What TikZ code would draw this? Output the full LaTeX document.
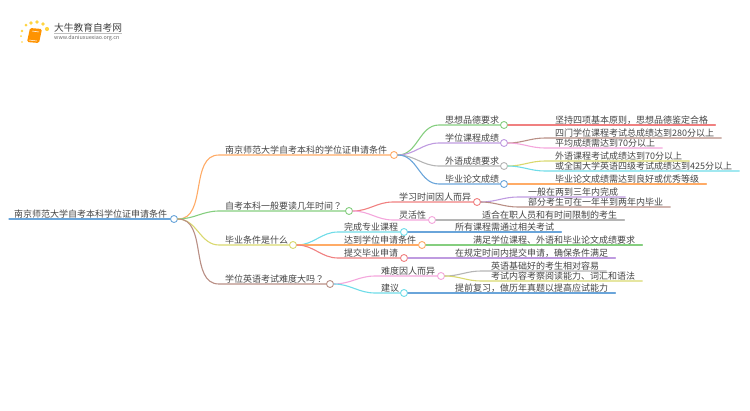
\documentclass[tikz,border=0pt]{standalone}
\usepackage{fontspec}
\setmainfont{Noto Sans CJK SC}
\newfontfamily\tcfont{Noto Sans CJK TC}
\usepackage{xcolor}
\definecolor{cblue}{HTML}{6AA5DA}
\definecolor{corange}{HTML}{FFAB66}
\definecolor{cgreen}{HTML}{85CE7F}
\definecolor{cyellow}{HTML}{D9D86E}
\definecolor{cbrown}{HTML}{B98F85}
\definecolor{cred}{HTML}{F08080}
\definecolor{cpurple}{HTML}{BF9BE0}
\definecolor{cgray}{HTML}{B5B5B5}
\definecolor{cpink}{HTML}{F4A6DC}
\definecolor{ccyan}{HTML}{6FDCE8}
\definecolor{inktext}{HTML}{444444}
\tikzset{
  topic/.style={anchor=south west, inner xsep=0pt, inner ysep=0pt, text height=7.5pt, text depth=1.5pt,
    font=\fontsize{9}{9}\selectfont, text=inktext},
  dot/.style={draw=#1, fill=white, circle, line width=.9pt, minimum width=7pt, inner sep=0pt},
  branch/.style={draw=#1, line width=1.1pt, line cap=round},
  curve/.style={out=0, in=180}
}
\begin{document}
\begin{tikzpicture}[x=1pt, y=-1pt]
  \useasboundingbox (0,0) rectangle (750,410);

  \foreach \dotx/\doty/\dotr in {26/25/1.5, 31/23/1.9, 37/22/1.9, 43/24/1.9, 47/29/2.1, 22/31/1.3, 21/36/1, 22/42/.8}
    \fill[orange!45!yellow, opacity=.75] (\dotx,\doty) circle (\dotr);
  \fill[rounded corners=1.5pt, orange!85!yellow] (30,28) -- (42,29) -- (39,43) -- (27,42) -- cycle;
  \draw[white, line width=.5pt] (32,31) -- (39,32);
  \draw[white, line width=.5pt] (29,40) -- (37,41);
  \node[anchor=west, inner sep=0pt, font=\fontsize{9.7}{10}\selectfont, text=black!75] (logotitle) at (54,27.5) {大牛教育自考网};
  \node[anchor=west, inner sep=0pt, font=\fontsize{5.4}{6}\selectfont, text=black!60] (logourl) at (54,38.5) {www.daniuxuexiao.org.cn};
  \draw[black!25, line width=.4pt] (logotitle.south west) ++(0,1) -- ++(68,0);

  \node[dot=cblue] (root) at (174,219) {};
  \node[dot=corange] (cond) at (394,155) {};
  \node[dot=cgreen] (years) at (349,211) {};
  \node[dot=cyellow] (grad) at (293,245) {};
  \node[dot=cbrown] (eng) at (330,284) {};
  \node[dot=cgreen] (moral) at (504,125) {};
  \node[dot=cpurple] (course) at (504,143) {};
  \node[dot=cgray] (lang) at (504,166) {};
  \node[dot=cblue] (thesis) at (504,184) {};
  \node[dot=cred] (study) at (477,202) {};
  \node[dot=cpink] (flex) at (432,220) {};
  \node[dot=ccyan] (finish) at (404,232) {};
  \node[dot=corange] (reach) at (422,245) {};
  \node[dot=cred] (submit) at (404,258) {};
  \node[dot=cpink] (hard) at (441,276) {};
  \node[dot=ccyan] (tips) at (404,293) {};

  \node[topic] (troot) at (14,219) {南京师范大学自考本科学位证申请条件};
  \node[topic] (tcond) at (225,155) {南京师范大学自考本科的学位证申请条件};
  \node[topic] (tyears) at (225,211) {自考本科一般要读几年时间{\tcfont ？}};
  \node[topic] (tgrad) at (225,245) {毕业条件是什么};
  \node[topic] (teng) at (225,284) {学位英语考试难度大吗{\tcfont ？}};
  \node[topic] (tmoral) at (445,125) {思想品德要求};
  \node[topic] (tcourse) at (445,143) {学位课程成绩};
  \node[topic] (tlang) at (445,166) {外语成绩要求};
  \node[topic] (tthesis) at (445,184) {毕业论文成绩};
  \node[topic] (tstudy) at (399,202) {学习时间因人而异};
  \node[topic] (tflex) at (399,220) {灵活性};
  \node[topic] (tfinish) at (344,232) {完成专业课程};
  \node[topic] (treach) at (344,245) {达到学位申请条件};
  \node[topic] (tsubmit) at (344,258) {提交毕业申请};
  \node[topic] (thard) at (381,276) {难度因人而异};
  \node[topic] (ttips) at (381,293) {建议};

  \node[topic] (lmoral) at (555,125) {坚持四项基本原则，思想品德鉴定合格};
  \node[topic] (lcoursea) at (555,138) {四门学位课程考试总成绩达到280分以上};
  \node[topic] (lcourseb) at (555,148) {平均成绩需达到70分以上};
  \node[topic] (llanga) at (555,161) {外语课程考试成绩达到70分以上};
  \node[topic] (llangb) at (555,171) {或全国大学英语四级考试成绩达到425分以上};
  \node[topic] (lthesis) at (555,184) {毕业论文成绩需达到良好或优秀等级};
  \node[topic] (lstudya) at (528,197) {一般在两到三年内完成};
  \node[topic] (lstudyb) at (528,207) {部分考生可在一年半到两年内毕业};
  \node[topic] (lflex) at (482,220) {适合在职人员和有时间限制的考生};
  \node[topic] (lfinish) at (455,232) {所有课程需通过相关考试};
  \node[topic] (lreach) at (473,245) {满足学位课程、外语和毕业论文成绩要求};
  \node[topic] (lsubmit) at (455,258) {在规定时间内提交申请，确保条件满足};
  \node[topic] (lharda) at (491,271) {英语基础好的考生相对容易};
  \node[topic] (lhardb) at (491,281) {考试内容考察阅读能力、词汇和语法};
  \node[topic] (ltips) at (455,293) {提前复习，做历年真题以提高应试能力};

  \draw[branch=cblue] ([xshift=-5pt]troot.south west) -- (root);
  \draw[branch=corange] (root.east) to[curve] ([xshift=-6pt]tcond.south west) -- (cond);
  \draw[branch=cgreen] (root.east) to[curve] ([xshift=-6pt]tyears.south west) -- (years);
  \draw[branch=cyellow] (root.east) to[curve] ([xshift=-6pt]tgrad.south west) -- (grad);
  \draw[branch=cbrown] (root.east) to[curve] ([xshift=-6pt]teng.south west) -- (eng);

  \draw[branch=cgreen] (cond.east) to[curve] ([xshift=-6pt]tmoral.south west) -- (moral);
  \draw[branch=cpurple] (cond.east) to[curve] ([xshift=-6pt]tcourse.south west) -- (course);
  \draw[branch=cgray] (cond.east) to[curve] ([xshift=-6pt]tlang.south west) -- (lang);
  \draw[branch=cblue] (cond.east) to[curve] ([xshift=-6pt]tthesis.south west) -- (thesis);
  \draw[branch=cred] (years.east) to[curve] ([xshift=-6pt]tstudy.south west) -- (study);
  \draw[branch=cpink] (years.east) to[curve] ([xshift=-6pt]tflex.south west) -- (flex);
  \draw[branch=ccyan] (grad.east) to[curve] ([xshift=-6pt]tfinish.south west) -- (finish);
  \draw[branch=corange] (grad.east) to[curve] ([xshift=-6pt]treach.south west) -- (reach);
  \draw[branch=cred] (grad.east) to[curve] ([xshift=-6pt]tsubmit.south west) -- (submit);
  \draw[branch=cpink] (eng.east) to[curve] ([xshift=-6pt]thard.south west) -- (hard);
  \draw[branch=ccyan] (eng.east) to[curve] ([xshift=-6pt]ttips.south west) -- (tips);

  \draw[branch=cred] (moral) -- ([xshift=7pt]lmoral.south east);
  \draw[branch=cbrown] (course.east) to[curve] ([xshift=-10pt]lcoursea.south west) -- ([xshift=7pt]lcoursea.south east);
  \draw[branch=cpink] (course.east) to[curve] ([xshift=-10pt]lcourseb.south west) -- ([xshift=7pt]lcourseb.south east);
  \draw[branch=cyellow] (lang.east) to[curve] ([xshift=-10pt]llanga.south west) -- ([xshift=7pt]llanga.south east);
  \draw[branch=ccyan] (lang.east) to[curve] ([xshift=-10pt]llangb.south west) -- ([xshift=7pt]llangb.south east);
  \draw[branch=corange] (thesis) -- ([xshift=7pt]lthesis.south east);
  \draw[branch=cpurple] (study.east) to[curve] ([xshift=-10pt]lstudya.south west) -- ([xshift=7pt]lstudya.south east);
  \draw[branch=cbrown] (study.east) to[curve] ([xshift=-10pt]lstudyb.south west) -- ([xshift=7pt]lstudyb.south east);
  \draw[branch=cgray] (flex) -- ([xshift=7pt]lflex.south east);
  \draw[branch=cblue] (finish) -- ([xshift=7pt]lfinish.south east);
  \draw[branch=cgreen] (reach) -- ([xshift=7pt]lreach.south east);
  \draw[branch=cpurple] (submit) -- ([xshift=7pt]lsubmit.south east);
  \draw[branch=cgray] (hard.east) to[curve] ([xshift=-10pt]lharda.south west) -- ([xshift=7pt]lharda.south east);
  \draw[branch=cyellow] (hard.east) to[curve] ([xshift=-10pt]lhardb.south west) -- ([xshift=7pt]lhardb.south east);
  \draw[branch=cblue] (tips) -- ([xshift=7pt]ltips.south east);
\end{tikzpicture}
\end{document}
